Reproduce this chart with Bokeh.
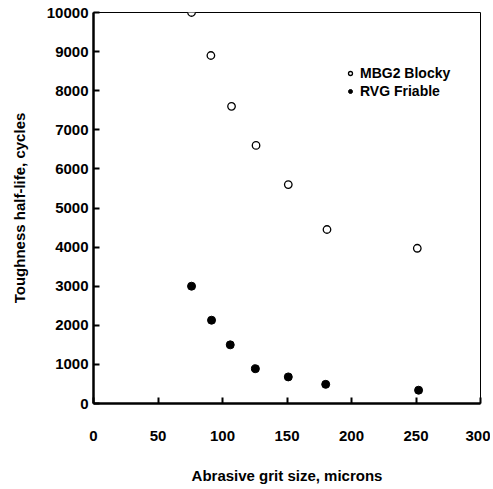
from bokeh.plotting import figure
from bokeh.models import Range1d, Legend, LegendItem, FixedTicker
from bokeh.embed import file_html
from bokeh.resources import INLINE

grit_mbg2 = [76, 91, 107, 126, 151, 181, 251]
life_mbg2 = [10000, 8900, 7600, 6600, 5600, 4450, 3970]
grit_rvg = [76, 91.5, 106, 125.5, 151, 180, 252]
life_rvg = [3000, 2130, 1500, 890, 680, 490, 340]
x_ticks = [0, 50, 100, 150, 200, 250, 300]
y_ticks = [0, 1000, 2000, 3000, 4000, 5000, 6000, 7000, 8000, 9000, 10000]

FONT = "Liberation Sans"

p = figure(width=490, height=486, output_backend="svg", toolbar_location=None,
           x_range=Range1d(0, 300), y_range=Range1d(0, 10000),
           min_border_left=93, min_border_right=10, min_border_top=12, min_border_bottom=83)
p.grid.visible = False
p.outline_line_color = "black"
p.outline_line_width = 1
p.background_fill_color = "white"
p.border_fill_color = "white"

for ax in (p.xaxis[0], p.yaxis[0]):
    ax.axis_line_width = 2.5
    ax.axis_line_color = "black"
    ax.major_tick_in = 6
    ax.major_tick_out = 0
    ax.major_tick_line_width = 2
    ax.minor_tick_line_color = None
    ax.major_label_text_font = FONT
    ax.major_label_text_font_style = "bold"
    ax.major_label_text_font_size = "15px"
    ax.major_label_text_color = "black"
    ax.axis_label_text_font = FONT
    ax.axis_label_text_font_style = "bold"
    ax.axis_label_text_font_size = "15px"
    ax.axis_label_text_color = "black"

p.xaxis.ticker = FixedTicker(ticks=x_ticks)
p.yaxis.ticker = FixedTicker(ticks=y_ticks)
p.xaxis.axis_label = "Abrasive grit size, microns"
p.yaxis.axis_label = "Toughness half-life, cycles"
p.xaxis.major_label_standoff = 27
p.xaxis.axis_label_standoff = 23
p.yaxis.major_label_standoff = 5
p.yaxis.axis_label_standoff = 16

r1 = p.scatter(grit_mbg2, life_mbg2, marker="circle", size=7.5, fill_color="white",
               line_color="black", line_width=1.3)
r2 = p.scatter(grit_rvg, life_rvg, marker="circle", size=8, fill_color="black",
               line_color="black")

legend = Legend(items=[LegendItem(label="MBG2 Blocky", renderers=[r1]),
                       LegendItem(label="RVG Friable", renderers=[r2])],
                location=(252, 303), padding=0, margin=0, spacing=0,
                glyph_width=10, glyph_height=18, label_standoff=5,
                border_line_color=None, background_fill_alpha=0,
                label_text_font=FONT, label_text_font_style="bold",
                label_text_color="black",
                label_text_font_size="14px", label_height=18)
p.add_layout(legend)

open("out.html", "w").write(file_html(p, INLINE))
